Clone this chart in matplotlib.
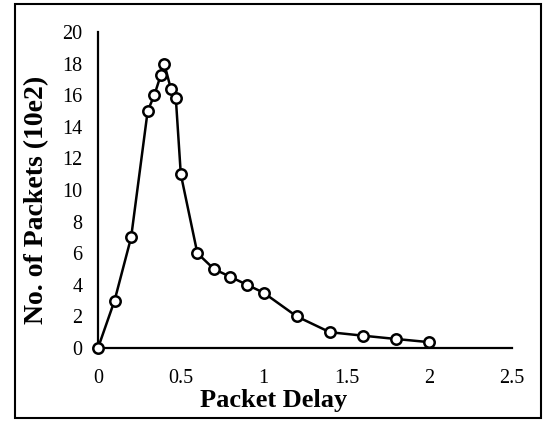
import matplotlib
matplotlib.use("Agg")
import matplotlib.pyplot as plt
from matplotlib.patches import Rectangle

# packet delay distribution
delay = [0, 0.1, 0.2, 0.3, 0.34, 0.38, 0.4, 0.44, 0.47, 0.5, 0.6, 0.7, 0.8, 0.9, 1.0, 1.2, 1.4, 1.6, 1.8, 2.0]
packets = [0, 3, 7, 15, 16, 17.3, 18, 16.4, 15.8, 11, 6, 5, 4.5, 4, 3.5, 2, 1, 0.78, 0.57, 0.37]

xticks = [0, 0.5, 1, 1.5, 2, 2.5]
xticklabels = ["0", "0.5", "1", "1.5", "2", "2.5"]
yticks = list(range(0, 21, 2))

plt.rcParams['font.family'] = ['Liberation Serif', 'DejaVu Serif']

fig = plt.figure(figsize=(5.46, 4.21), dpi=100)
ax = fig.add_axes([98 / 546, 1 - 348 / 421, (512 - 98) / 546, (348 - 32) / 421])

ax.plot(delay, packets, color='black', linewidth=1.8, marker='o', markersize=7.5,
        markerfacecolor='white', markeredgecolor='black', markeredgewidth=1.8,
        clip_on=False, zorder=3)

ax.set_xlim(0, 2.5)
ax.set_ylim(0, 20)
ax.set_xticks(xticks)
ax.set_xticklabels(xticklabels)
ax.set_yticks(yticks)
ax.tick_params(axis='both', length=0, labelsize=14.5)
ax.tick_params(axis='y', pad=11)
ax.tick_params(axis='x', pad=15)

for s in ['top', 'right']:
    ax.spines[s].set_visible(False)
ax.spines['left'].set_linewidth(1.6)
ax.spines['bottom'].set_linewidth(1.6)

# axis titles sit off-centre, like the original
fig.text(273.5 / 546, 1 - 400 / 421, 'Packet Delay', fontsize=19, fontweight='bold',
         ha='center', va='center')
fig.text(37 / 546, 1 - 200 / 421, 'No. of Packets (10e2)', fontsize=20, fontweight='bold',
         ha='center', va='center', rotation=90)

fig.patches.append(Rectangle((14.5 / 546, 3.5 / 421), (541 - 14.5) / 546, (417.5 - 4) / 421,
                             transform=fig.transFigure, fill=False,
                             edgecolor='black', linewidth=1.5))

fig.savefig('out.png', dpi=100)
